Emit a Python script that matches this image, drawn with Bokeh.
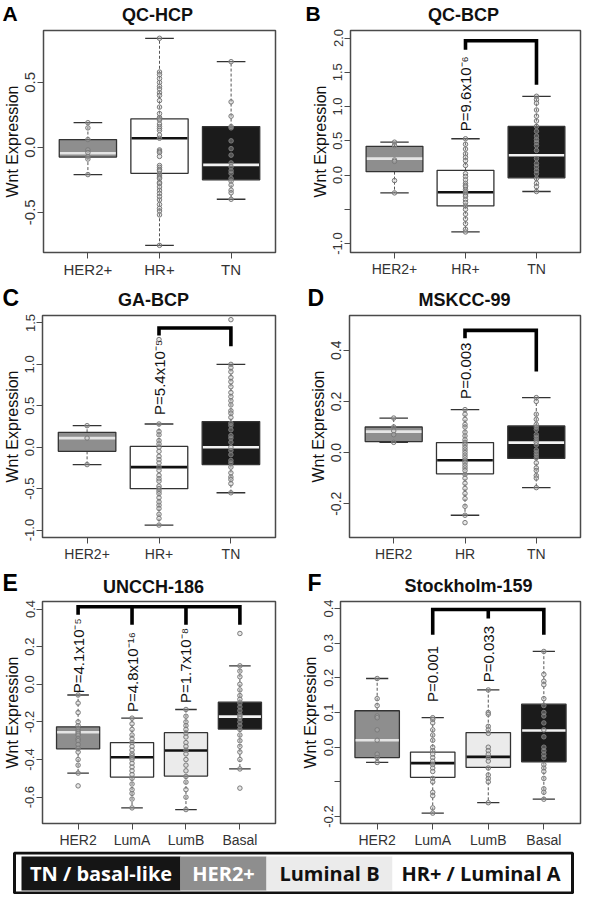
import math
from bokeh.plotting import figure
from bokeh.models import Range1d, FixedTicker, PrintfTickFormatter
from bokeh.layouts import column, row
from bokeh.embed import file_html
from bokeh.resources import INLINE
from bokeh.core.properties import value

FONT = "Liberation Sans"

# ======================= DATA =======================
# Panel A: QC-HCP
a_cats = ["HER2+", "HR+", "TN"]
a_q1 = [-0.075, -0.20, -0.25]
a_med = [-0.045, 0.07, -0.135]
a_q3 = [0.06, 0.22, 0.16]
a_lo = [-0.21, -0.755, -0.40]
a_hi = [0.19, 0.84, 0.66]
a_pts_her2 = [0.19, 0.15, 0.06, -0.02, -0.04, -0.07, -0.09, -0.21]
a_pts_hr = [0.84, 0.58, 0.56, 0.53, 0.50, 0.47, 0.45, 0.42, 0.40, 0.36, 0.31, 0.26,
            0.23, 0.22, 0.21, 0.18, 0.16, 0.145, 0.13, 0.095, 0.07, -0.02, -0.03,
            -0.04, -0.07, -0.14, -0.155, -0.17, -0.18, -0.205, -0.22, -0.23, -0.24,
            -0.27, -0.28, -0.305, -0.33, -0.355, -0.38, -0.405, -0.44, -0.47, -0.49,
            -0.52, -0.755]
a_pts_tn = [0.66, 0.35, 0.24, 0.16, 0.15, 0.05, -0.01, -0.06, -0.12, -0.15, -0.18,
            -0.20, -0.24, -0.26, -0.29, -0.33, -0.35, -0.40]

# Panel B: QC-BCP
b_cats = ["HER2+", "HR+", "TN"]
b_q1 = [0.05, -0.45, -0.04]
b_med = [0.24, -0.25, 0.29]
b_q3 = [0.42, 0.07, 0.71]
b_lo = [-0.26, -0.83, -0.24]
b_hi = [0.48, 0.53, 1.15]
b_pts_her2 = [0.48, 0.43, 0.22, 0.20, -0.08, -0.26]
b_pts_hr = [0.53, 0.45, 0.38, 0.31, 0.26, 0.21, 0.14, 0.02, -0.02, -0.07, -0.12,
            -0.15, -0.17, -0.21, -0.24, -0.26, -0.29, -0.31, -0.36, -0.40, -0.45,
            -0.50, -0.57, -0.64, -0.71, -0.79, -0.83]
b_pts_tn = [1.15, 1.10, 1.05, 0.95, 0.86, 0.79, 0.71, 0.64, 0.57, 0.52, 0.48, 0.43,
            0.36, 0.24, 0.17, 0.12, 0.07, 0.02, -0.05, -0.12, -0.17, -0.24]
b_pcats = ["HR+"]
b_ptext = ["P=9.6x10\u207b\u2076"]

# Panel C: GA-BCP
c_cats = ["HER2+", "HR+", "TN"]
c_q1 = [-0.05, -0.50, -0.21]
c_med = [0.11, -0.24, 0.0]
c_q3 = [0.18, 0.01, 0.31]
c_lo = [-0.21, -0.94, -0.55]
c_hi = [0.26, 0.28, 1.00]
c_pts_her2 = [0.26, 0.11, -0.21]
c_pts_hr = [1.30, 0.28, 0.19, 0.15, 0.08, 0.04, 0.0, -0.05, -0.11, -0.15, -0.19,
            -0.24, -0.28, -0.34, -0.38, -0.41, -0.47, -0.50, -0.53, -0.56, -0.61,
            -0.66, -0.70, -0.74, -0.81, -0.86, -0.94]
c_pts_tn = [1.54, 1.00, 0.96, 0.91, 0.84, 0.79, 0.73, 0.66, 0.61, 0.56, 0.51, 0.44,
            0.41, 0.36, 0.29, 0.26, 0.21, 0.14, 0.11, 0.06, 0.0, -0.04, -0.09,
            -0.16, -0.19, -0.24, -0.31, -0.36, -0.39, -0.44, -0.55]
c_pcats = ["HR+"]
c_ptext = ["P=5.4x10\u207b\u2075"]

# Panel D: MSKCC-99
d_cats = ["HER2", "HR", "TN"]
d_q1 = [0.043, -0.083, -0.023]
d_med = [0.082, -0.03, 0.039]
d_q3 = [0.10, 0.039, 0.104]
d_lo = [0.04, -0.245, -0.137]
d_hi = [0.135, 0.168, 0.215]
d_pts_her2 = [0.135, 0.10, 0.085, 0.07, 0.04]
d_pts_hr = [0.168, 0.15, 0.13, 0.11, 0.10, 0.08, 0.065, 0.05, 0.04, 0.03, 0.02,
            0.01, 0.0, -0.01, -0.02, -0.03, -0.04, -0.05, -0.06, -0.07, -0.085,
            -0.10, -0.12, -0.14, -0.16, -0.18, -0.21, -0.245, -0.274]
d_pts_tn = [0.215, 0.20, 0.15, 0.13, 0.11, 0.10, 0.09, 0.07, 0.06, 0.05, 0.04,
            0.03, 0.01, 0.0, -0.01, -0.02, -0.04, -0.06, -0.07, -0.09, -0.10, -0.137]
d_pcats = ["HR"]
d_ptext = ["P=0.003"]

# Panel E: UNCCH-186
e_cats = ["HER2", "LumA", "LumB", "Basal"]
e_q1 = [-0.343, -0.493, -0.488, -0.238]
e_med = [-0.255, -0.388, -0.352, -0.172]
e_q3 = [-0.226, -0.31, -0.257, -0.095]
e_lo = [-0.472, -0.657, -0.666, -0.45]
e_hi = [-0.057, -0.18, -0.134, 0.098]
e_pts_her2 = [-0.057, -0.10, -0.15, -0.20, -0.22, -0.24, -0.25, -0.26, -0.27, -0.29,
              -0.30, -0.32, -0.34, -0.36, -0.40, -0.43, -0.472, -0.54]
e_pts_luma = [-0.18, -0.21, -0.24, -0.27, -0.29, -0.31, -0.33, -0.35, -0.37, -0.38,
              -0.39, -0.40, -0.42, -0.44, -0.46, -0.48, -0.50, -0.53, -0.56, -0.58,
              -0.61, -0.657]
e_pts_lumb = [-0.134, -0.17, -0.20, -0.22, -0.24, -0.26, -0.28, -0.31, -0.33, -0.35,
              -0.37, -0.40, -0.43, -0.46, -0.49, -0.52, -0.56, -0.60, -0.666]
e_pts_basal = [0.27, 0.098, 0.07, 0.04, 0.0, -0.03, -0.06, -0.08, -0.10, -0.12, -0.14,
               -0.16, -0.17, -0.18, -0.20, -0.22, -0.24, -0.27, -0.30, -0.33, -0.36,
               -0.40, -0.45, -0.552]
e_pcats = ["HER2", "LumA", "LumB"]
e_ptext = ["P=4.1x10\u207b\u2075", "P=4.8x10\u207b\u00b9\u2076", "P=1.7x10\u207b\u2078"]

# Panel F: Stockholm-159
f_cats = ["HER2", "LumA", "LumB", "Basal"]
f_q1 = [-0.030, -0.087, -0.058, -0.042]
f_med = [0.02, -0.046, -0.028, 0.048]
f_q3 = [0.105, -0.014, 0.042, 0.124]
f_lo = [-0.044, -0.19, -0.16, -0.15]
f_hi = [0.198, 0.085, 0.165, 0.276]
f_pts_her2 = [0.198, 0.14, 0.12, 0.09, 0.085, 0.05, 0.02, -0.02, -0.03, -0.044]
f_pts_luma = [0.085, 0.08, 0.07, 0.05, 0.035, 0.02, 0.0, -0.01, -0.02, -0.03, -0.04,
              -0.05, -0.06, -0.07, -0.09, -0.10, -0.13, -0.14, -0.175, -0.19]
f_pts_lumb = [0.165, 0.10, 0.095, 0.06, 0.05, 0.04, 0.0, -0.01, -0.02, -0.03, -0.04,
              -0.06, -0.08, -0.09, -0.10, -0.16]
f_pts_basal = [0.276, 0.21, 0.19, 0.18, 0.14, 0.12, 0.10, 0.09, 0.07, 0.05, 0.03, 0.0,
               -0.01, -0.02, -0.03, -0.05, -0.06, -0.07, -0.09, -0.12, -0.13, -0.15]
f_pcats = ["LumA", "LumB"]
f_ptext = ["P=0.001", "P=0.033"]

# Panel letters / titles
panel_letters = ["A", "B", "C", "D", "E", "F"]
panel_titles = ["QC-HCP", "QC-BCP", "GA-BCP", "MSKCC-99", "UNCCH-186", "Stockholm-159"]

# Legend
leg_labels = ["TN / basal-like", "HER2+", "Luminal B", "HR+ / Luminal A"]

# ======================= STYLE =======================
FILL = {"HER2+": "#8e8e8e", "HER2": "#8e8e8e", "HR+": "#ffffff", "HR": "#ffffff",
        "LumA": "#ffffff", "LumB": "#ebebeb", "TN": "#1b1b1b", "Basal": "#1b1b1b"}
MEDC = {"HER2+": "#e4e4e4", "HER2": "#e4e4e4", "HR+": "#111111", "HR": "#111111",
        "LumA": "#111111", "LumB": "#111111", "TN": "#f2f2f2", "Basal": "#f2f2f2"}
leg_fills = ["#151515", "#8e8e8e", "#ebebeb", "#ffffff"]
leg_text_colors = ["#ffffff", "#ffffff", "#111111", "#111111"]

LW, RW = 292, 292
TOTW = LW + RW
FH = 222   # frame height of every panel
BT = 4     # top border of every panel


def make_panel(cats, q1, med, q3, lo, hi, pts, ylim, yticks, hidden,
               tick_fs, cat_fs, width, bl, br, bb,
               pcats=(), ptext=(), plab_y=(), br_top=None, br_legs=None):
    n = len(cats)
    xs = [i + 1 for i in range(n)]
    pos = dict(zip(cats, xs))
    pad = 0.04 * n
    p = figure(width=width, height=BT + FH + bb, title=None,
               x_range=Range1d(0.5 - pad, n + 0.5 + pad), y_range=Range1d(*ylim),
               output_backend="svg", toolbar_location=None,
               min_border_left=bl, min_border_right=br, min_border_top=BT,
               min_border_bottom=bb)
    p.background_fill_color = "white"
    p.border_fill_color = "white"
    p.outline_line_color = "#4a4a4a"
    p.outline_line_width = 1.5
    p.xgrid.visible = False
    p.ygrid.visible = False

    hw = 0.4
    cw = 0.2
    p.segment(x0=xs, y0=q3, x1=xs, y1=hi, line_color="#555555", line_dash="3 2", line_width=1)
    p.segment(x0=xs, y0=q1, x1=xs, y1=lo, line_color="#555555", line_dash="3 2", line_width=1)
    p.segment(x0=[x - cw for x in xs], x1=[x + cw for x in xs], y0=hi, y1=hi,
              line_color="#333333", line_width=1.3)
    p.segment(x0=[x - cw for x in xs], x1=[x + cw for x in xs], y0=lo, y1=lo,
              line_color="#333333", line_width=1.3)
    p.vbar(x=xs, width=2 * hw, bottom=q1, top=q3, fill_color=[FILL[c] for c in cats],
           line_color="#333333", line_width=1.3)
    p.segment(x0=[x - hw + 0.01 for x in xs], x1=[x + hw - 0.01 for x in xs], y0=med, y1=med,
              line_color=[MEDC[c] for c in cats], line_width=2.6)
    px, py = [], []
    for c, vals in zip(cats, pts):
        px += [pos[c]] * len(vals)
        py += list(vals)
    p.scatter(px, py, size=4.5, marker="circle", fill_color="#bdbdbd", fill_alpha=0.35,
              line_color="#7a7a7a", line_width=1)

    if br_top is not None:
        legs = sorted(br_legs, key=lambda t: pos[t[0]])
        (c1, b1), (c2, b2) = legs[0], legs[-1]
        p.line([pos[c1], pos[c1], pos[c2], pos[c2]], [b1, br_top, br_top, b2],
               line_color="#000000", line_width=3.6, line_join="miter")
        for c, b in legs[1:-1]:
            p.segment(x0=[pos[c]], x1=[pos[c]], y0=[br_top], y1=[b],
                      line_color="#000000", line_width=3.6)
    if pcats:
        p.text(x=[pos[c] for c in pcats], y=list(plab_y), text=list(ptext),
               angle=math.pi / 2, text_align="left", text_baseline="middle",
               text_font=value(FONT), text_font_size="15px", text_color="#111111")

    p.xaxis.ticker = FixedTicker(ticks=xs)
    p.xaxis.major_label_overrides = {x: c for x, c in zip(xs, cats)}
    p.xaxis.major_label_text_font_size = cat_fs
    p.yaxis.ticker = FixedTicker(ticks=yticks)
    p.yaxis.formatter = PrintfTickFormatter(format="%.1f")
    if hidden:
        p.yaxis.major_label_overrides = {h: "" for h in hidden}
    p.yaxis.major_label_orientation = "vertical"
    p.yaxis.major_label_text_font_size = tick_fs
    p.yaxis.axis_label = "Wnt Expression"
    p.yaxis.axis_label_text_font_size = "16px"
    p.yaxis.axis_label_text_font_style = "normal"
    p.yaxis.axis_label_text_font = FONT
    p.yaxis.axis_label_text_color = "#111111"
    p.yaxis.axis_label_standoff = 2
    for ax in (p.xaxis, p.yaxis):
        ax.axis_line_color = None
        ax.major_tick_out = 6
        ax.major_tick_in = 0
        ax.major_tick_line_color = "#4a4a4a"
        ax.minor_tick_line_color = None
        ax.major_label_text_font = FONT
        ax.major_label_text_color = "#333333"
        ax.major_label_standoff = 2
    return p


def make_header(height, letters, titles, letter_xy, title_xy, letter_fs):
    h = figure(width=TOTW, height=height, title=None,
               x_range=Range1d(0, TOTW), y_range=Range1d(0, height),
               output_backend="svg", toolbar_location=None, min_border=0,
               x_axis_location=None, y_axis_location=None)
    h.outline_line_color = None
    h.xgrid.visible = False
    h.ygrid.visible = False
    h.text(x=[xy[0] for xy in letter_xy], y=[xy[1] for xy in letter_xy], text=letters,
           text_align="left", text_baseline="middle", text_font=value(FONT),
           text_font_size=letter_fs, text_font_style="bold", text_color="#000000")
    h.text(x=[xy[0] for xy in title_xy], y=[xy[1] for xy in title_xy], text=titles,
           text_align="center", text_baseline="middle", text_font=value(FONT),
           text_font_size="18px", text_font_style="bold", text_color="#111111")
    return h


hdr1 = make_header(26, panel_letters[0:2], panel_titles[0:2],
                   [(2, 13), (305, 13)], [(157, 12), (463, 12)], "21px")
pa = make_panel(a_cats, a_q1, a_med, a_q3, a_lo, a_hi,
                [a_pts_her2, a_pts_hr, a_pts_tn], (-0.81, 0.90), [-0.5, 0.0, 0.5], [],
                "15px", "15px", LW, 34, 17, 33)
pb = make_panel(b_cats, b_q1, b_med, b_q3, b_lo, b_hi,
                [b_pts_her2, b_pts_hr, b_pts_tn], (-1.13, 2.11),
                [-1.0, -0.5, 0.0, 0.5, 1.0, 1.5, 2.0], [-0.5],
                "13px", "14px", RW, 58, 4, 33,
                pcats=b_pcats, ptext=b_ptext, plab_y=[0.64], br_top=1.96,
                br_legs=[("HR+", 1.83), ("TN", 1.32)])

hdr2 = make_header(26, panel_letters[2:4], panel_titles[2:4],
                   [(2, 14), (307, 14)], [(153, 12), (464, 12)], "23px")
pc = make_panel(c_cats, c_q1, c_med, c_q3, c_lo, c_hi,
                [c_pts_her2, c_pts_hr, c_pts_tn], (-1.09, 1.59),
                [-1.0, -0.5, 0.0, 0.5, 1.0, 1.5], [],
                "13px", "14px", LW, 34, 17, 34,
                pcats=c_pcats, ptext=c_ptext, plab_y=[0.39], br_top=1.44,
                br_legs=[("HR+", 1.35), ("TN", 1.22)])
pd_ = make_panel(d_cats, d_q1, d_med, d_q3, d_lo, d_hi,
                 [d_pts_her2, d_pts_hr, d_pts_tn], (-0.332, 0.536),
                 [-0.2, 0.0, 0.2, 0.4], [],
                 "14px", "14px", RW, 57, 4, 34,
                 pcats=d_pcats, ptext=d_ptext, plab_y=[0.21], br_top=0.478,
                 br_legs=[("HR", 0.447), ("TN", 0.317)])

hdr3 = make_header(26, panel_letters[4:6], panel_titles[4:6],
                   [(2, 15), (307, 15)], [(153, 11), (468, 12)], "23px")
pe = make_panel(e_cats, e_q1, e_med, e_q3, e_lo, e_hi,
                [e_pts_her2, e_pts_luma, e_pts_lumb, e_pts_basal], (-0.74, 0.44),
                [-0.6, -0.4, -0.2, 0.0, 0.2, 0.4], [],
                "13px", "14px", LW, 34, 17, 28,
                pcats=e_pcats, ptext=e_ptext, plab_y=[-0.048, -0.148, -0.10],
                br_top=0.412,
                br_legs=[("HER2", 0.369), ("LumA", 0.317), ("LumB", 0.317), ("Basal", 0.317)])
pf = make_panel(f_cats, f_q1, f_med, f_q3, f_lo, f_hi,
                [f_pts_her2, f_pts_luma, f_pts_lumb, f_pts_basal], (-0.22, 0.42),
                [-0.2, -0.1, 0.0, 0.1, 0.2, 0.3, 0.4], [-0.1],
                "13px", "14px", RW, 48, 4, 28,
                pcats=f_pcats, ptext=f_ptext, plab_y=[0.13, 0.187], br_top=0.397,
                br_legs=[("LumA", 0.324), ("LumB", 0.371), ("Basal", 0.324)])

# Legend strip
LH = 43
leg = figure(width=TOTW, height=LH, title=None, x_range=Range1d(0, TOTW),
             y_range=Range1d(0, LH), output_backend="svg", toolbar_location=None,
             min_border=0, x_axis_location=None, y_axis_location=None)
leg.outline_line_color = None
leg.xgrid.visible = False
leg.ygrid.visible = False
edges = [21, 180, 266, 392, 569]
leg.quad(left=edges[:-1], right=edges[1:], bottom=[4] * 4, top=[38] * 4,
         fill_color=leg_fills, line_color=None)
leg.quad(left=[14], right=[572], bottom=[1.5], top=[41.5], fill_color=None,
         line_color="#111111", line_width=3)
leg.text(x=[(edges[i] + edges[i + 1]) / 2 for i in range(4)], y=[21] * 4, text=leg_labels,
         text_align="center", text_baseline="middle", text_font=value("Open Sans"),
         text_font_size="20px", text_font_style="bold", text_color=leg_text_colors)

layout = column(hdr1, row(pa, pb), hdr2, row(pc, pd_), hdr3, row(pe, pf), leg)
open("out.html", "w").write(file_html(layout, INLINE))
